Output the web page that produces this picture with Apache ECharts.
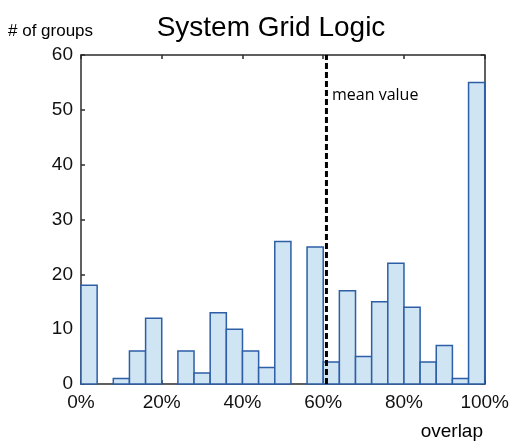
<!DOCTYPE html>
<html>
<head>
<meta charset="utf-8">
<script src="https://cdn.jsdelivr.net/npm/echarts@6/dist/echarts.min.js"></script>
<style>html,body{margin:0;padding:0;background:#fff;}#c{width:512px;height:442px;}</style>
</head>
<body>
<div id="c"></div>
<script>
// bin edges (percent overlap), 4% wide bins
var binStarts = [0,4,8,12,16,20,24,28,32,36,40,44,48,52,56,60,64,68,72,76,80,84,88,92,96];
var binWidth = 4;
var counts = [18,0,1,6,12,0,6,2,13,10,6,3,26,0,25,4,17,5,15,22,14,4,7,1,55];
var meanValue = 60.8;
var xTicks = [0,20,40,60,80,100];
var yTicks = [0,10,20,30,40,50,60];

var chart = echarts.init(document.getElementById('c'), null, {renderer:'canvas'});
var barData = binStarts.map(function(s,i){ return [s, s+binWidth, counts[i]]; });
var font = '"Liberation Sans", Arial, sans-serif';
var frameColor = '#2b2b2b';

var option = {
  animation:false,
  backgroundColor:'#ffffff',
  grid:{left:81, right:26, top:55, bottom:58},
  xAxis:[{
    type:'value', min:xTicks[0], max:xTicks[xTicks.length-1], interval:20, position:'bottom',
    axisLine:{show:true, onZero:false, lineStyle:{color:frameColor, width:1.5}},
    axisTick:{show:true, inside:true, length:4, lineStyle:{color:frameColor, width:1.5}},
    axisLabel:{formatter:'{value}%', color:'#111', fontSize:19, fontFamily:font, margin:9},
    splitLine:{show:false}
  },{
    type:'value', min:xTicks[0], max:xTicks[xTicks.length-1], interval:20, position:'top',
    axisLine:{show:true, onZero:false, lineStyle:{color:frameColor, width:1.5}},
    axisTick:{show:true, inside:true, length:4, lineStyle:{color:frameColor, width:1.5}},
    axisLabel:{show:false}, splitLine:{show:false}
  }],
  yAxis:[{
    type:'value', min:yTicks[0], max:yTicks[yTicks.length-1], interval:10, position:'left',
    axisLine:{show:true, onZero:false, lineStyle:{color:frameColor, width:1.5}},
    axisTick:{show:true, inside:true, length:4, lineStyle:{color:frameColor, width:1.5}},
    axisLabel:{color:'#111', fontSize:19, fontFamily:font, margin:8},
    splitLine:{show:false}
  },{
    type:'value', min:yTicks[0], max:yTicks[yTicks.length-1], interval:10, position:'right',
    axisLine:{show:true, onZero:false, lineStyle:{color:frameColor, width:1.5}},
    axisTick:{show:true, inside:true, length:4, lineStyle:{color:frameColor, width:1.5}},
    axisLabel:{show:false}, splitLine:{show:false}
  }],
  series:[{
    type:'custom',
    xAxisIndex:0, yAxisIndex:0,
    data: barData,
    encode:{x:[0,1], y:2},
    renderItem:function(params, api){
      var s = api.value(0), e = api.value(1), v = api.value(2);
      if (v <= 0) return null;
      var p0 = api.coord([s, v]);
      var p1 = api.coord([e, 0]);
      return {
        type:'rect',
        shape:{x:p0[0], y:p0[1], width:p1[0]-p0[0], height:p1[1]-p0[1]},
        style:{fill:'#cfe5f3', stroke:'#2d5ea6', lineWidth:1.5}
      };
    }
  },{
    type:'line',
    xAxisIndex:0, yAxisIndex:0,
    data:[[meanValue, yTicks[0]],[meanValue, yTicks[yTicks.length-1]]],
    symbol:'none',
    lineStyle:{color:'#000', width:3, type:[6,3]},
    z:5
  }],
  graphic:[
    {type:'text', style:{x:271, y:28, text:'System Grid Logic', font:'28px "Liberation Sans", Arial, sans-serif', fill:'#000', textAlign:'center', textVerticalAlign:'middle'}},
    {type:'text', style:{x:8, y:31, text:'# of groups', font:'17px "Liberation Sans", Arial, sans-serif', fill:'#000', textAlign:'left', textVerticalAlign:'middle'}},
    {type:'text', style:{x:483, y:432, text:'overlap', font:'19px "Liberation Sans", Arial, sans-serif', fill:'#000', textAlign:'right', textVerticalAlign:'middle'}},
    {type:'text', style:{x:332, y:95, text:'mean value', font:'16px "Open Sans", "Noto Sans", sans-serif', fill:'#000', textAlign:'left', textVerticalAlign:'middle'}}
  ]
};
chart.setOption(option);
</script>
</body>
</html>
